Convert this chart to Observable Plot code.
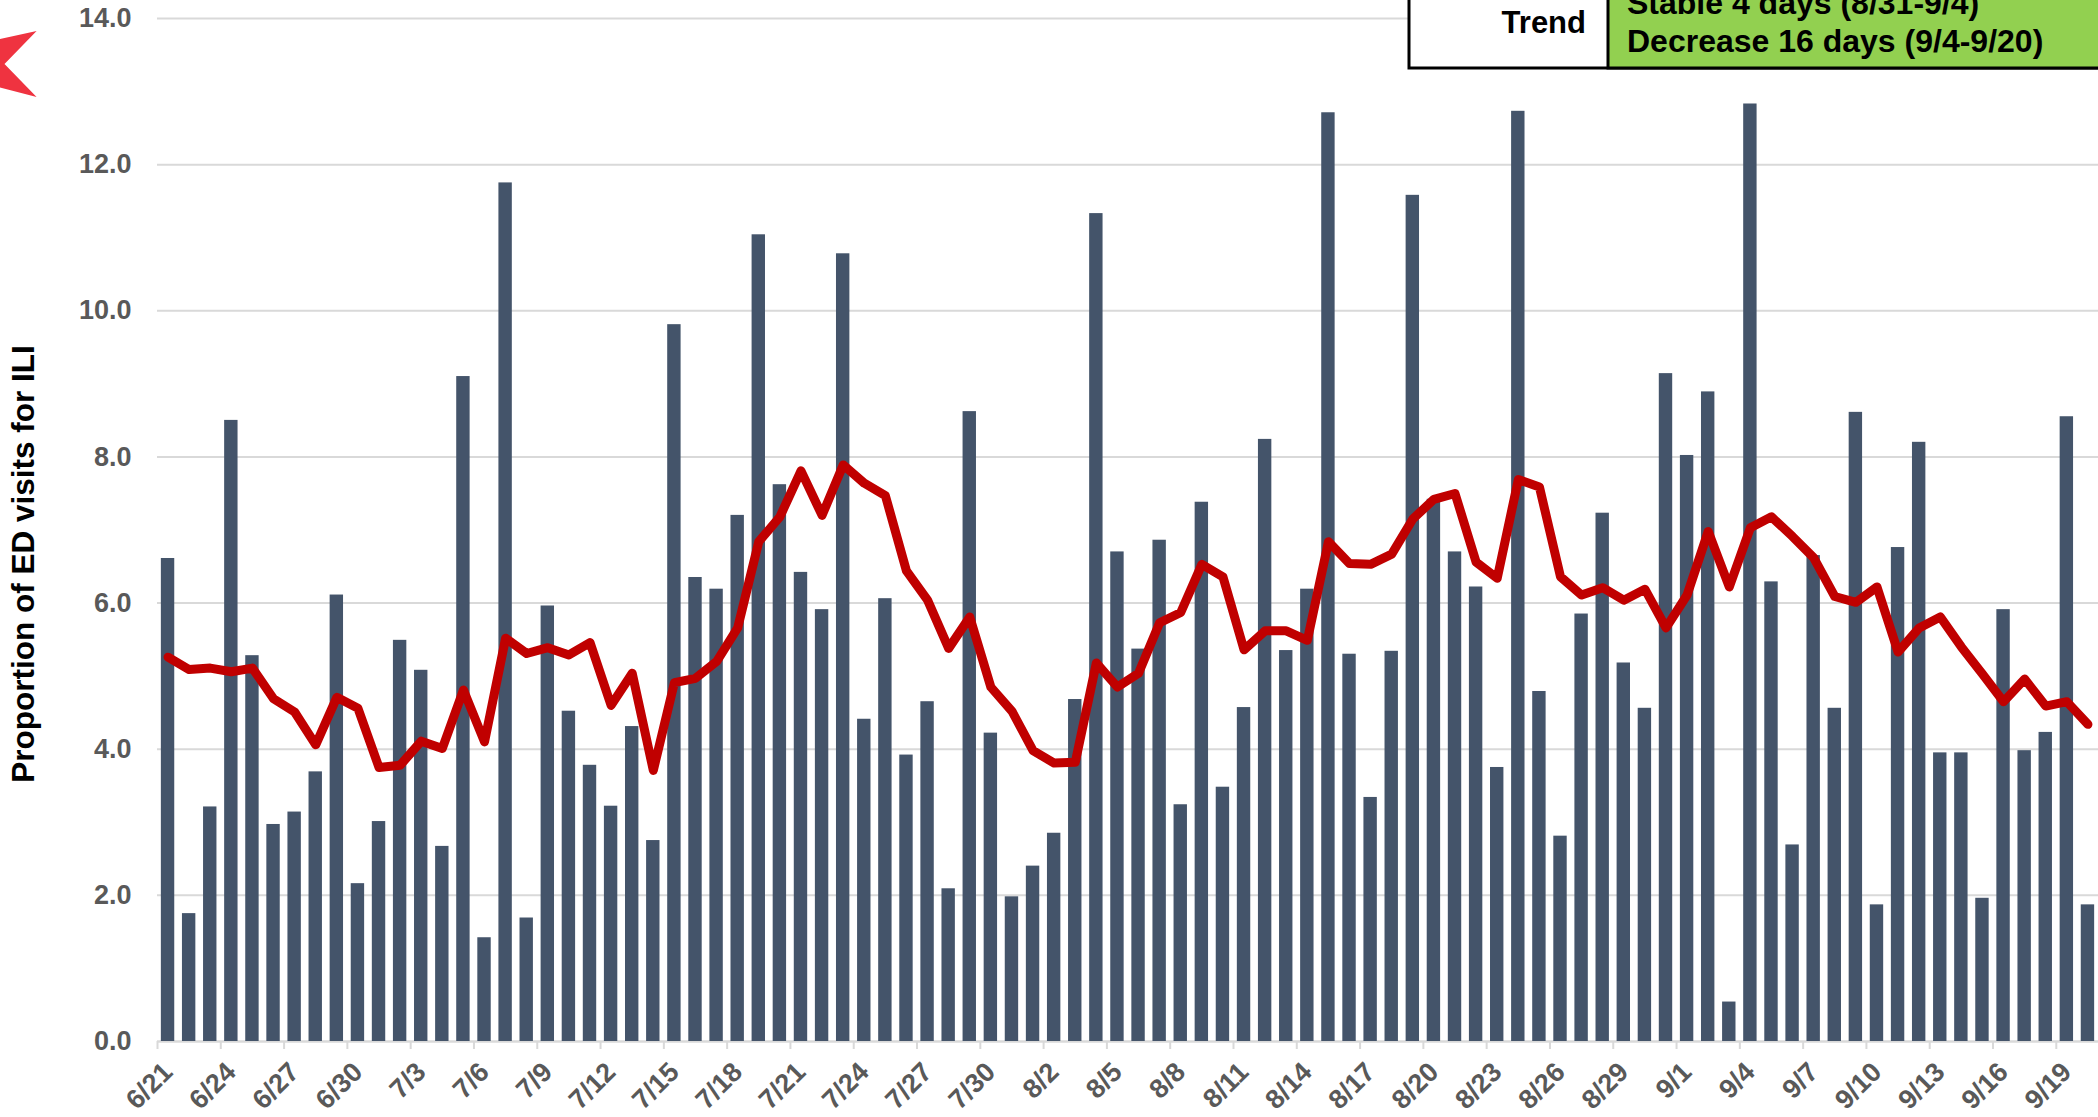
<!DOCTYPE html>
<html><head><meta charset="utf-8">
<script src="https://cdn.jsdelivr.net/npm/d3@7"></script>
<script src="https://cdn.jsdelivr.net/npm/@observablehq/plot@0.6"></script>
<style>
html,body{margin:0;padding:0;background:#fff;overflow:hidden;}
#wrap{position:relative;width:2098px;height:1117px;overflow:hidden;font-family:"Liberation Sans",Arial,sans-serif;}
#wrap svg.ov{position:absolute;left:0;top:0;pointer-events:none;}
</style></head><body>
<div id="wrap"></div>
<script>
const dateLabels = [
"6/21","6/22","6/23","6/24","6/25","6/26","6/27","6/28","6/29","6/30",
"7/1","7/2","7/3","7/4","7/5","7/6","7/7","7/8","7/9","7/10",
"7/11","7/12","7/13","7/14","7/15","7/16","7/17","7/18","7/19","7/20",
"7/21","7/22","7/23","7/24","7/25","7/26","7/27","7/28","7/29","7/30",
"7/31","8/1","8/2","8/3","8/4","8/5","8/6","8/7","8/8","8/9",
"8/10","8/11","8/12","8/13","8/14","8/15","8/16","8/17","8/18","8/19",
"8/20","8/21","8/22","8/23","8/24","8/25","8/26","8/27","8/28","8/29",
"8/30","8/31","9/1","9/2","9/3","9/4","9/5","9/6","9/7","9/8",
"9/9","9/10","9/11","9/12","9/13","9/14","9/15","9/16","9/17","9/18",
"9/19","9/20"];
const iliPercent = [
6.61,1.75,3.21,8.50,5.28,2.97,3.14,3.69,6.11,2.16,
3.01,5.49,5.08,2.67,9.10,1.42,11.75,1.69,5.96,4.52,
3.78,3.22,4.31,2.75,9.81,6.35,6.19,7.20,11.04,7.62,
6.42,5.91,10.78,4.41,6.06,3.92,4.65,2.09,8.62,4.22,
1.98,2.40,2.85,4.68,11.33,6.70,5.37,6.86,3.24,7.38,
3.48,4.57,8.24,5.35,6.19,12.71,5.30,3.34,5.34,11.58,
7.42,6.70,6.22,3.75,12.73,4.79,2.81,5.85,7.23,5.18,
4.56,9.14,8.02,8.89,0.54,12.83,6.29,2.69,6.65,4.56,
8.61,1.87,6.76,8.20,3.95,3.95,1.96,5.91,3.98,4.23,
8.55,1.87];
const movingAvg = [
5.26,5.09,5.11,5.06,5.11,4.69,4.51,4.06,4.71,4.56,
3.75,3.78,4.11,4.01,4.81,4.10,5.52,5.31,5.39,5.29,
5.46,4.60,5.04,3.71,4.91,4.97,5.20,5.66,6.84,7.18,
7.81,7.20,7.89,7.64,7.47,6.44,6.04,5.38,5.81,4.85,
4.52,3.98,3.81,3.82,5.18,4.85,5.04,5.73,5.87,6.53,
6.36,5.36,5.62,5.62,5.49,6.84,6.54,6.53,6.67,7.15,
7.42,7.50,6.56,6.34,7.69,7.59,6.36,6.11,6.21,6.04,
6.19,5.66,6.11,6.98,6.22,7.03,7.18,6.91,6.62,6.09,
6.01,6.22,5.33,5.66,5.81,5.40,5.03,4.65,4.96,4.59,
4.65,4.34];
const yTicks = [0,2,4,6,8,10,12,14];
const yTitle = "Proportion of ED visits for ILI";
const trendLabel = "Trend";
const trendLines = ["Stable 4 days (8/31-9/4)", "Decrease 16 days (9/4-9/20)"];

const YEAR = 2021, DAY = 864e5;
const parse = s => { const [m, d] = s.split("/").map(Number); return new Date(Date.UTC(YEAR, m - 1, d)); };
const data = dateLabels.map((s, i) => {
  const t = parse(s);
  return {label: s, start: t, end: new Date(+t + DAY), mid: new Date(+t + DAY / 2), ili: iliPercent[i], avg: movingAvg[i]};
});
const tickRows = data.filter((d, i) => i % 3 === 0);
const labelByMid = new Map(data.map(d => [+d.mid, d.label]));
const FONT = '"Liberation Sans", Arial, Helvetica, sans-serif';

const chart = Plot.plot({
  width: 2098, height: 1117,
  marginLeft: 157, marginRight: 0, marginTop: 18, marginBottom: 76,
  style: {fontFamily: FONT, background: "#fff"},
  x: {type: "utc", domain: [data[0].start, data[data.length - 1].end]},
  y: {domain: [0, 14]},
  marks: [
    Plot.gridY(yTicks, {stroke: "#D9D9D9", strokeOpacity: 1, strokeWidth: 2}),
    Plot.ruleY([0], {stroke: "#D9D9D9", strokeWidth: 2}),
    Plot.axisX(tickRows.map(d => d.start), {tickSize: 8, stroke: "#D9D9D9", strokeWidth: 2, tickFormat: () => "", label: null}),
    Plot.axisX(tickRows.map(d => d.mid), {tickSize: 0, tickPadding: 26, tickRotate: -45, tickFormat: d => labelByMid.get(+d), fontSize: 27, fontWeight: "bold", fill: "#595959", label: null}),
    Plot.axisY(yTicks, {tickSize: 0, tickPadding: 26, tickFormat: d3.format(".1f"), fontSize: 27, fontWeight: "bold", fill: "#595959", label: null}),
    Plot.rectY(data, {x1: "start", x2: "end", y: "ili", fill: "#44546A", insetLeft: 3.85, insetRight: 3.85}),
    Plot.line(data, {x: "mid", y: "avg", stroke: "#C00000", strokeWidth: 9, strokeLinejoin: "round", strokeLinecap: "round"}),
    Plot.text([yTitle], {frameAnchor: "left", textAnchor: "middle", rotate: -90, dx: -134, dy: 34, fontSize: 31.5, fontWeight: "bold", fill: "#000"})
  ]
});
const wrap = document.getElementById("wrap");
wrap.appendChild(chart);

// overlay: trend box and logo fragment
const ov = d3.select(wrap).append("svg").attr("class", "ov").attr("width", 2098).attr("height", 1117)
  .style("font-family", FONT);
ov.append("polygon").attr("points", "0,39 36.6,31 4.5,64 36.6,97 0,87.5").attr("fill", "#EF3340");
ov.append("rect").attr("x", 1409).attr("y", -40).attr("width", 760).attr("height", 108)
  .attr("fill", "#fff").attr("stroke", "#000").attr("stroke-width", 3);
ov.append("rect").attr("x", 1608).attr("y", -40).attr("width", 560).attr("height", 108)
  .attr("fill", "#92D050").attr("stroke", "#000").attr("stroke-width", 3);
ov.append("text").attr("x", 1586).attr("y", 33).attr("text-anchor", "end")
  .attr("font-size", 31).attr("font-weight", "bold").attr("fill", "#000").text(trendLabel);
ov.selectAll("text.tl").data(trendLines).join("text").attr("class", "tl")
  .attr("x", 1627).attr("y", (d, i) => [13.5, 52][i])
  .attr("font-size", 32).attr("font-weight", "bold").attr("fill", "#000").text(d => d);
</script>
</body></html>
